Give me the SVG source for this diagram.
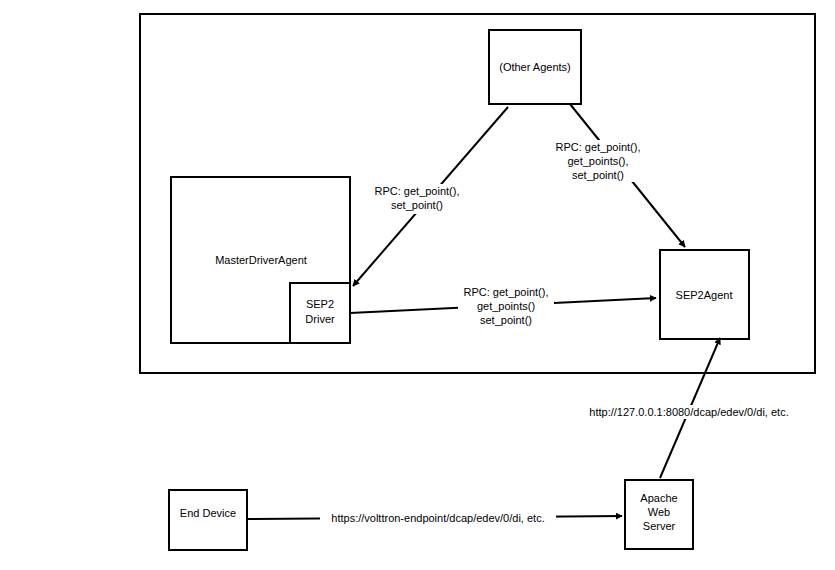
<svg xmlns="http://www.w3.org/2000/svg" width="835" height="570" viewBox="0 0 835 570">
<style>
.b{fill:#fff;stroke:#000;stroke-width:2}
.t{font-family:"Liberation Sans",Arial,sans-serif;font-size:11px;fill:#000;text-anchor:middle}
.c{stroke:#000;stroke-width:2;fill:none;marker-end:url(#a)}
</style>
<defs><marker id="a" viewBox="0 0 10 10" refX="9" refY="5" markerWidth="7" markerHeight="7" orient="auto" markerUnits="userSpaceOnUse"><path d="M0,0L10,5L0,10z" fill="#000"/></marker></defs>
<rect width="835" height="570" fill="#fff"/>
<rect id="outer" class="b" x="140" y="14" width="675" height="359"/>
<g id="other"><rect class="b" x="489" y="30" width="92" height="74"/><text class="t" x="535" y="71">(Other Agents)</text></g>
<g id="master"><rect class="b" x="171" y="177" width="179" height="166"/><text class="t" x="261" y="264">MasterDriverAgent</text></g>
<g id="driver"><rect class="b" x="290" y="283" width="60" height="60"/><text class="t" x="320" y="308">SEP2</text><text class="t" x="320" y="323">Driver</text></g>
<g id="sep2agent"><rect class="b" x="660" y="250" width="89" height="89"/><text class="t" x="704" y="299">SEP2Agent</text></g>
<g id="enddev"><rect class="b" x="169" y="490" width="78" height="60"/><text class="t" x="208" y="517">End Device</text></g>
<g id="apache"><rect class="b" x="625" y="480" width="68" height="69"/><text class="t" x="659" y="502">Apache</text><text class="t" x="659" y="516">Web</text><text class="t" x="659" y="530">Server</text></g>
<g id="connectors">
<line class="c" x1="508" y1="107" x2="353" y2="286"/>
<line class="c" x1="570" y1="104" x2="685" y2="247"/>
<line class="c" x1="350" y1="313" x2="656" y2="298"/>
<line class="c" x1="660" y1="478" x2="720" y2="338"/>
<line class="c" x1="247" y1="519" x2="622" y2="516"/>
<rect x="372" y="184" width="90" height="30" fill="#fff"/>
<text class="t" x="417" y="195">RPC: get_point(),</text><text class="t" x="417" y="209">set_point()</text>
<rect x="560" y="140" width="78" height="42" fill="#fff"/>
<text class="t" x="598" y="151">RPC: get_point(),</text><text class="t" x="598" y="165">get_points(),</text><text class="t" x="598" y="179">set_point()</text>
<rect x="458" y="284" width="96" height="42" fill="#fff"/>
<text class="t" x="506" y="296">RPC: get_point(),</text><text class="t" x="506" y="310">get_points()</text><text class="t" x="506" y="324">set_point()</text>
<rect x="580" y="405" width="218" height="14" fill="#fff"/>
<text class="t" x="689" y="416">http://127.0.0.1:8080/dcap/edev/0/di, etc.</text>
<rect x="320" y="511" width="236" height="14" fill="#fff"/>
<text class="t" x="438" y="522">https://volttron-endpoint/dcap/edev/0/di, etc.</text>
</g>
</svg>
